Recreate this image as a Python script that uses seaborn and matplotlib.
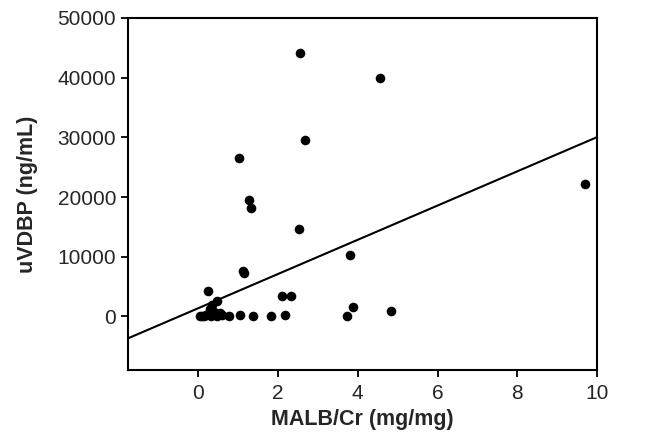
import matplotlib
matplotlib.use("Agg")
import matplotlib.pyplot as plt
import numpy as np
import pandas as pd
import seaborn as sns

# MALB/Cr (mg/mg) vs uVDBP (ng/mL)
malb_cr = [
    2.55, 4.55, 2.68, 1.02, 1.27, 1.34, 2.54, 3.82, 9.7, 1.14,
    1.16, 0.25, 2.1, 2.33, 3.88, 4.83, 3.73,
    0.15, 0.2, 0.32, 0.49, 0.61, 0.78, 1.06, 1.39, 1.83, 2.18,
    0.49, 0.36, 0.3, 0.4, 0.25, 0.1, 0.05, 0.55,
]
uvdbp = [
    44100, 39900, 29500, 26600, 19500, 18100, 14650, 10300, 22100, 7600,
    7200, 4200, 3350, 3350, 1500, 950, 0,
    0, 300, 100, 0, 200, 100, 200, 0, 100, 200,
    2500, 1850, 1200, 700, 400, 100, 0, 500,
]

# regression line shown in the figure
FIT_INTERCEPT = 1350
FIT_SLOPE = 2870

X_TICKS = [0, 2, 4, 6, 8, 10]
Y_TICKS = [0, 10000, 20000, 30000, 40000, 50000]

df = pd.DataFrame({"malb_cr": malb_cr, "uvdbp": uvdbp})

sns.set_style("white")
plt.rcParams["font.family"] = ["Liberation Sans", "DejaVu Sans"]

fig = plt.figure(figsize=(6.6, 4.37), dpi=100)
ax = fig.add_axes([0.194, 0.153, 0.711, 0.806])

sns.scatterplot(data=df, x="malb_cr", y="uvdbp", color="black", s=48,
                edgecolor="black", linewidth=0, ax=ax, zorder=3)
ax.axline((0, FIT_INTERCEPT), slope=FIT_SLOPE, color="black", linewidth=1.5)

ax.set_xlim(-1.75, 10)
ax.set_ylim(-9000, 50000)
ax.set_xticks(X_TICKS)
ax.set_yticks(Y_TICKS)
ax.tick_params(axis="both", direction="out", length=5, width=1.3,
               labelsize=15, color="black", bottom=True, left=True)
ax.tick_params(axis="x", pad=5)

for spine in ax.spines.values():
    spine.set_color("black")
    spine.set_linewidth(1.5)

ax.set_xlabel("MALB/Cr (mg/mg)", fontsize=15.5, fontweight="bold", labelpad=4)
ax.set_ylabel("uVDBP (ng/mL)", fontsize=15.5, fontweight="bold", labelpad=14)

fig.savefig("out.png", dpi=100)
